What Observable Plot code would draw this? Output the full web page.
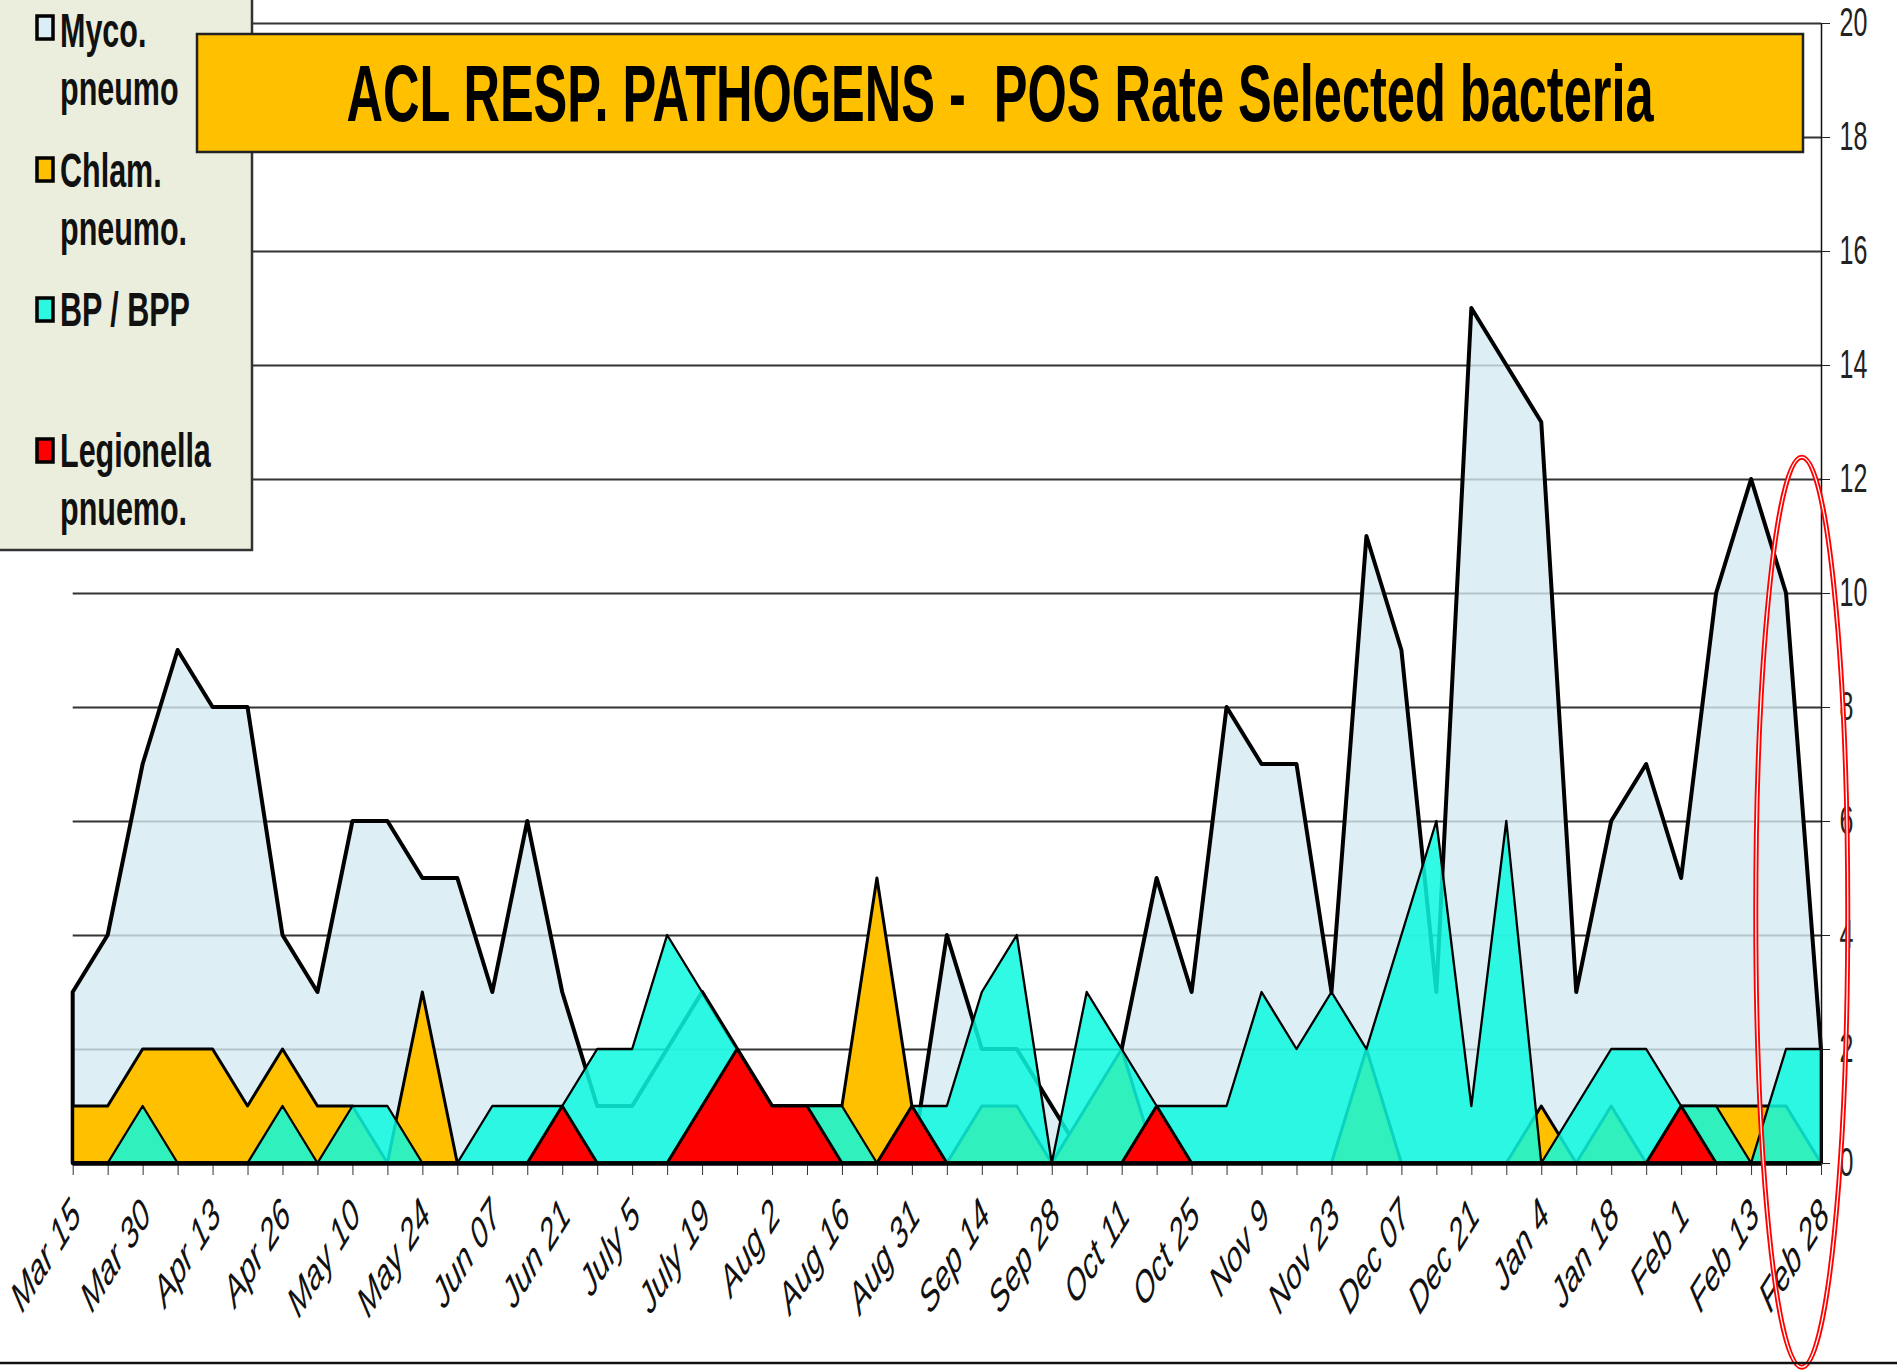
<!DOCTYPE html>
<html><head><meta charset="utf-8">
<script src="https://cdn.jsdelivr.net/npm/d3@7"></script>
<script src="https://cdn.jsdelivr.net/npm/@observablehq/plot@0.6"></script>
<style>
html,body{margin:0;padding:0;background:#fff;}
#chart{position:relative;width:1897px;height:1372px;overflow:hidden;}
svg{display:block;}
</style></head><body><div id="chart"></div>
<script>
// ---- data ----
const dateLabels = ["Mar 15","Mar 30","Apr 13","Apr 26","May 10","May 24","Jun 07","Jun 21","July 5","July 19","Aug 2","Aug 16","Aug 31","Sep 14","Sep 28","Oct 11","Oct 25","Nov 9","Nov 23","Dec 07","Dec 21","Jan 4","Jan 18","Feb 1","Feb 13","Feb 28"];
const myco   = [3,4,7,9,8,8,4,3,6,6,5,5,3,6,3,1,1,2,3,2,1,1,1,1,0,4,2,2,1,0,2,5,3,8,7,7,3,11,9,3,15,14,13,3,6,7,5,10,12,10,2];
const chlam  = [1,1,2,2,2,1,2,1,1,0,3,0,0,0,0,0,0,0,0,0,1,1,1,5,1,0,1,1,0,1,2,0,0,0,0,0,0,2,0,0,0,0,1,0,1,0,1,1,1,1,0];
const bpp    = [0,0,1,0,0,0,1,0,1,1,0,0,1,1,1,2,2,4,3,2,1,1,1,0,1,1,3,4,0,3,2,1,1,1,3,2,3,2,4,6,1,6,0,1,2,2,1,1,0,2,2];
const legion = [0,0,0,0,0,0,0,0,0,0,0,0,0,0,1,0,0,0,1,2,1,1,0,0,1,0,0,0,0,0,0,1,0,0,0,0,0,0,0,0,0,0,0,0,0,0,1,0,0,0,0];
const yTicks = [0,2,4,6,8,10,12,14,16,18,20];
const legendItems = [
  {lines:["Myco.","pneumo"], fill:"#DCEEF5"},
  {lines:["Chlam.","pneumo."], fill:"#FFC000"},
  {lines:["BP / BPP"], fill:"#2CF7E0"},
  {lines:["Legionella","pnuemo."], fill:"#FF0000"}
];
const titleText = "ACL RESP. PATHOGENS -  POS Rate Selected bacteria";

const rows = myco.map((v,i)=>({i, myco:v, chlam:chlam[i], bpp:bpp[i], legion:legion[i]}));
const labelRows = dateLabels.map((t,k)=>({i:k*2, t}));
const SY = 1.6; // vertical stretch of the original image's text
const FONT = "'Liberation Sans', Arial, Helvetica, sans-serif";

const plot = Plot.plot({
  width: 1897, height: 1372,
  marginLeft: 72.7, marginRight: 76, marginTop: 23, marginBottom: 209,
  x: {domain: [0, 50], axis: null},
  y: {domain: [0, 20], axis: null},
  style: {background: "transparent", fontFamily: FONT},
  marks: [
    Plot.gridY(yTicks.filter(v=>v>0), {stroke:"#333", strokeOpacity:1, strokeWidth:2.2}),
    Plot.areaY(rows, {x:"i", y:"myco", fill:"#D5EAF1", fillOpacity:0.8, stroke:"#000", strokeWidth:4}),
    Plot.areaY(rows, {x:"i", y:"chlam", fill:"#FFC000", stroke:"#000", strokeWidth:3}),
    Plot.areaY(rows, {x:"i", y:"bpp", fill:"#0CF8DF", fillOpacity:0.85, stroke:"#000", strokeWidth:2.3}),
    Plot.areaY(rows, {x:"i", y:"legion", fill:"#FF0000", stroke:"#000", strokeWidth:3}),
    Plot.axisX({ticks: d3.range(0,51), tickSize:12, tickFormat:()=>"", label:null, stroke:"#333"}),
    Plot.axisY({anchor:"right", ticks: yTicks, tickSize:8, tickFormat:()=>"", label:null, stroke:"#222"}),
    Plot.ruleX([50], {stroke:"#111", strokeWidth:1.5}),
    Plot.ruleY([0], {stroke:"#000", strokeWidth:4.5}),
    Plot.text(labelRows, {x:"i", y:()=>0, text:"t", textAnchor:"end", lineAnchor:"middle", rotate:-45, dx:3, dy:44, fontSize:27.5, fontStyle:"italic", fill:"#111"}),
    Plot.text(yTicks, {x:()=>50, y:d=>d, text:d=>String(d), textAnchor:"start", lineAnchor:"middle", dx:18, fontSize:25, fill:"#222"})
  ]
});

const svg = d3.select(plot);
// stretch label glyphs vertically like the original picture
function stretch(node) {
  const t = node.getAttribute("transform");
  if (t && t.includes("translate(")) {
    const k = t.indexOf(")") + 1;
    node.setAttribute("transform", t.slice(0,k) + ` scale(1,${SY})` + t.slice(k));
  } else {
    const x = +node.getAttribute("x") || 0, y = +node.getAttribute("y") || 0;
    node.setAttribute("x", 0); node.setAttribute("y", 0);
    node.setAttribute("transform", `translate(${x},${y}) scale(1,${SY})` + (t ? " " + t : ""));
  }
}
svg.selectAll('g[aria-label="text"] text').each(function(){ stretch(this); });

const X = plot.scale("x"), Y = plot.scale("y");

// red annotation ellipse
const eg = svg.append("g");
eg.append("ellipse").attr("cx", X.apply(49.45)).attr("cy", Y.apply(4.4)).attr("rx", 46).attr("ry", 455)
  .attr("fill","none").attr("stroke","#ff0000").attr("stroke-width",5);
eg.append("ellipse").attr("cx", X.apply(49.45)).attr("cy", Y.apply(4.4)).attr("rx", 46).attr("ry", 455)
  .attr("fill","none").attr("stroke","#fff").attr("stroke-width",1.3);

// bottom rule of the slide
svg.append("line").attr("x1",0).attr("x2",1897).attr("y1",1363).attr("y2",1363).attr("stroke","#111").attr("stroke-width",2.5);

// legend box
const lg = svg.append("g");
lg.append("rect").attr("x",-3).attr("y",-3).attr("width",255).attr("height",553)
  .attr("fill","#EBEEDD").attr("stroke","#333").attr("stroke-width",2.5);
const markerY = [16, 158, 298, 439];
const lineBase = [[47,105],[187,245],[326],[467,525]];
legendItems.forEach((it, k) => {
  lg.append("rect").attr("x",37).attr("y",markerY[k]).attr("width",16).attr("height",23)
    .attr("fill",it.fill).attr("stroke","#000").attr("stroke-width",3.5);
  it.lines.forEach((ln, j) => {
    lg.append("text").attr("transform",`translate(60,${lineBase[k][j]}) scale(1,${SY})`)
      .attr("text-anchor","start")
      .attr("font-family",FONT).attr("font-weight","bold").attr("font-size",30.5).attr("fill","#111").text(ln);
  });
});

// title banner
const tg = svg.append("g");
tg.append("rect").attr("x",197).attr("y",34).attr("width",1606).attr("height",118)
  .attr("fill","#FFC000").attr("stroke","#222").attr("stroke-width",2.5);
tg.append("text").attr("transform",`translate(1000,121) scale(1,${SY})`)
  .attr("text-anchor","middle").attr("font-family",FONT).attr("font-weight","bold").attr("font-size",50)
  .attr("textLength",1307).attr("lengthAdjust","spacingAndGlyphs").style("white-space","pre")
  .attr("fill","#000").text(titleText);

document.getElementById("chart").appendChild(plot);
</script></body></html>
